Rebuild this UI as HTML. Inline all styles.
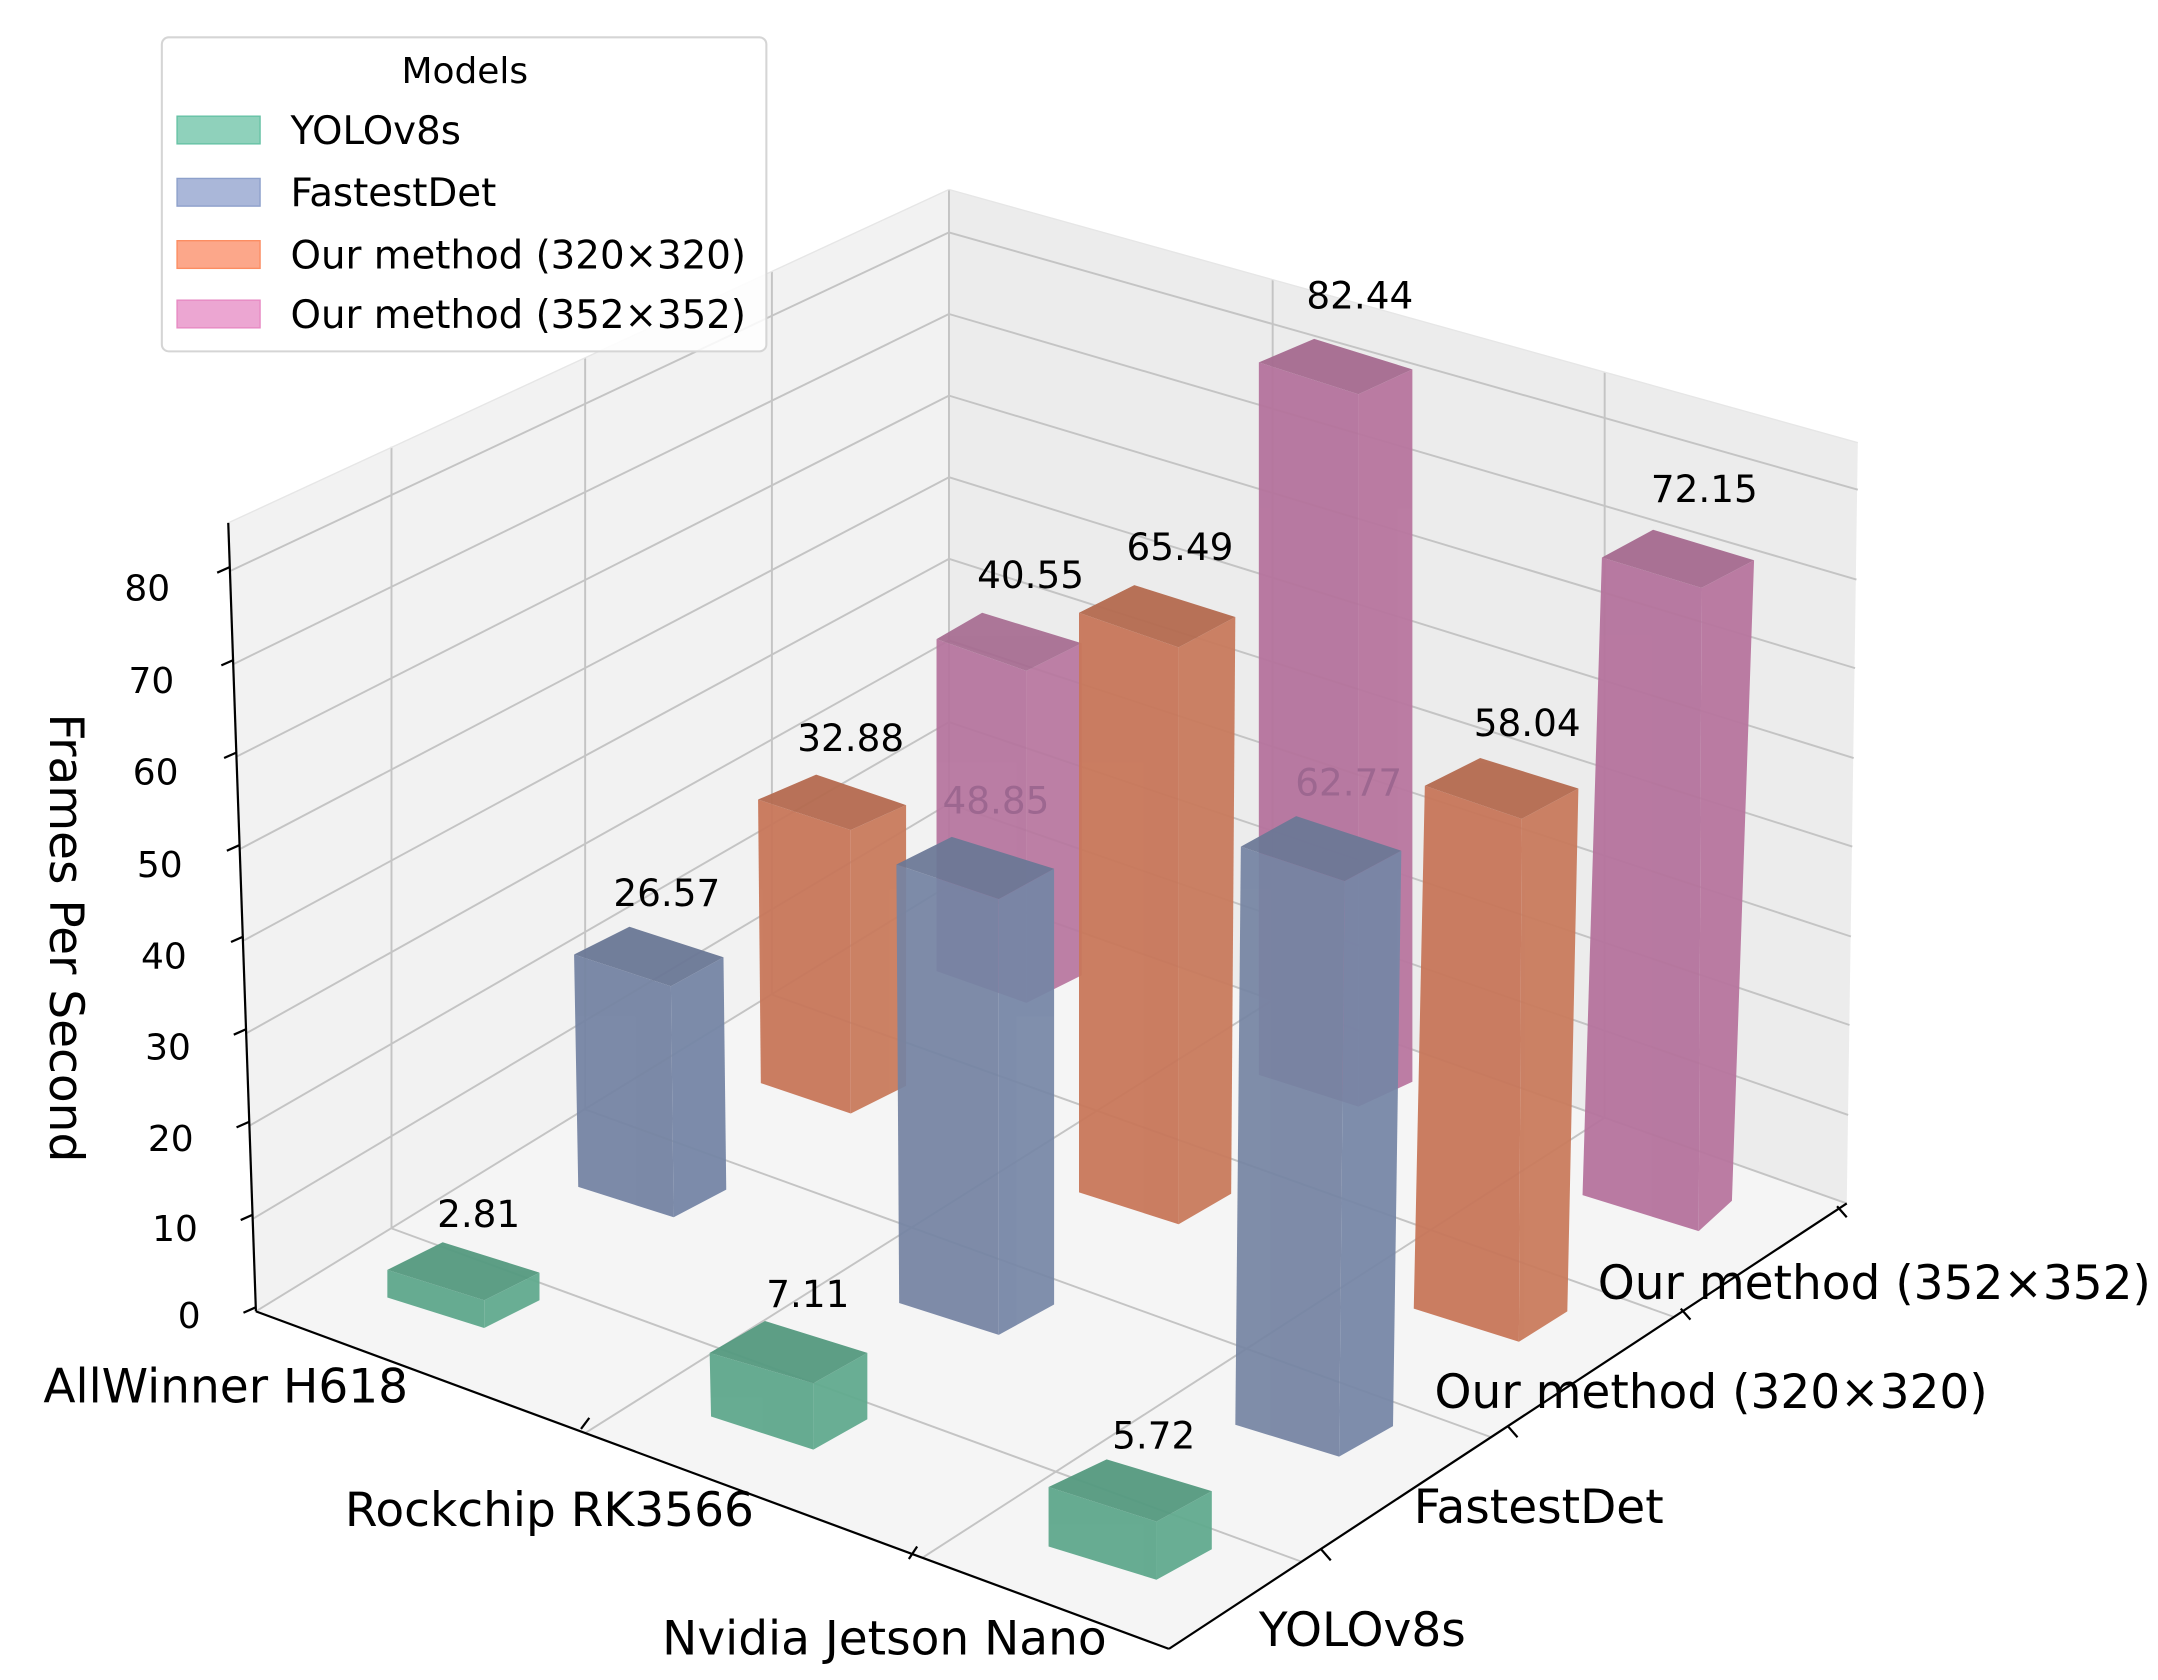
<!DOCTYPE html>
<html><head><meta charset="utf-8"><style>
html,body{margin:0;padding:0;background:#fff}
svg{display:block}
text{font-family:"DejaVu Sans","Liberation Sans",sans-serif;fill:#000}
</style></head><body>
<svg width="2158" height="1680" viewBox="0 0 1560 1214.5" preserveAspectRatio="none" xmlns="http://www.w3.org/2000/svg">
<rect width="1560" height="1215" fill="#fff"/>
<polygon points="185,948 686,640 686,137 165,378" fill="#f2f2f2"/>
<polygon points="686,640 1335,870 1343,320 686,137" fill="#ececec"/>
<polygon points="185,948 845,1192 1335,870 686,640" fill="#f5f5f5"/>
<g stroke="#c4c4c4" stroke-width="1.4" fill="none">
<line x1="183" y1="881" x2="686" y2="581"/><line x1="180" y1="814" x2="686" y2="522"/>
<line x1="178" y1="747" x2="686" y2="463"/><line x1="176" y1="680" x2="686" y2="404"/>
<line x1="173" y1="614" x2="686" y2="345"/><line x1="171" y1="547" x2="686" y2="286"/>
<line x1="169" y1="480" x2="686" y2="227"/><line x1="166" y1="413" x2="686" y2="168"/>
<line x1="185" y1="948" x2="686" y2="640"/>
<line x1="686" y1="581" x2="1336" y2="806"/><line x1="686" y1="522" x2="1337" y2="741"/>
<line x1="686" y1="463" x2="1338" y2="677"/><line x1="686" y1="404" x2="1339" y2="612"/>
<line x1="686" y1="345" x2="1340" y2="548"/><line x1="686" y1="286" x2="1341" y2="483"/>
<line x1="686" y1="227" x2="1342" y2="419"/><line x1="686" y1="168" x2="1343" y2="354"/>
<line x1="686" y1="640" x2="1335" y2="870"/>
<line x1="283" y1="888" x2="283" y2="323"/><line x1="423" y1="802" x2="423" y2="259"/>
<line x1="558" y1="719" x2="558" y2="196"/><line x1="686" y1="640" x2="686" y2="137"/>
<line x1="920" y1="723" x2="920" y2="202"/><line x1="1160" y1="808" x2="1160" y2="269"/>
<line x1="283" y1="888" x2="941" y2="1129"/><line x1="423" y1="802" x2="1078" y2="1039"/>
<line x1="558" y1="719" x2="1210" y2="952"/>
<line x1="920" y1="723" x2="423" y2="1036"/><line x1="1160" y1="808" x2="667" y2="1126"/>
</g>
<g stroke="#e6e6e6" stroke-width="1" fill="none">
<line x1="165" y1="378" x2="686" y2="137"/><line x1="686" y1="137" x2="1343" y2="320"/>
</g>
<g stroke="#000" stroke-width="1.6" fill="none">
<line x1="185" y1="948" x2="845" y2="1192"/><line x1="845" y1="1192" x2="1335" y2="870"/>
<line x1="185" y1="948" x2="165" y2="378"/>
<line x1="420" y1="1033" x2="426" y2="1025"/><line x1="657" y1="1127" x2="663" y2="1118"/>
<line x1="955" y1="1120" x2="962" y2="1128"/><line x1="1090" y1="1031" x2="1097" y2="1039"/>
<line x1="1215" y1="946" x2="1222" y2="954"/><line x1="1328" y1="872" x2="1335" y2="880"/>
<line x1="185" y1="945" x2="176" y2="949"/><line x1="183" y1="878" x2="174" y2="882"/>
<line x1="180" y1="811" x2="171" y2="815"/><line x1="178" y1="744" x2="169" y2="748"/>
<line x1="176" y1="677" x2="167" y2="681"/><line x1="173" y1="611" x2="164" y2="615"/>
<line x1="171" y1="544" x2="162" y2="548"/><line x1="169" y1="477" x2="160" y2="481"/>
<line x1="166" y1="410" x2="157" y2="414"/>
</g>
<g font-size="26" text-anchor="end">
<text x="123" y="434">80</text><text x="126" y="501">70</text><text x="129" y="567">60</text>
<text x="132" y="634">50</text><text x="135" y="700">40</text><text x="138" y="766">30</text>
<text x="140" y="832">20</text><text x="143" y="897">10</text><text x="145" y="960">0</text>
</g>
<text transform="translate(36,678) rotate(90)" font-size="34" text-anchor="middle">Frames Per Second</text>
<g font-size="34">
<text x="295" y="1014" text-anchor="end">AllWinner H618</text>
<text x="545" y="1103" text-anchor="end">Rockchip RK3566</text>
<text x="800" y="1196" text-anchor="end">Nvidia Jetson Nano</text>
<text x="910" y="1190">YOLOv8s</text>
<text x="1022" y="1101">FastestDet</text>
<text x="1037" y="1018">Our method (320×320)</text>
<text x="1155" y="939">Our method (352×352)</text>
</g>
<g stroke="none">
<g opacity="0.92"><polygon points="677,462 742,485 742,725 677,702" fill="#b5739d"/><polygon points="742,485 782,465 782,705 742,725" fill="#b8769f"/><polygon points="677,462 710,443 782,465 742,485" fill="#a66b90"/></g>
<g opacity="0.95"><polygon points="548,578 615,600 615,805 550,783" fill="#c8775a"/><polygon points="615,600 655,582 655,785 615,805" fill="#c97b5d"/><polygon points="548,578 590,560 655,582 615,600" fill="#b56b50"/></g>
<g opacity="0.95"><polygon points="910,262 982,285 982,800 910,777" fill="#b5739d"/><polygon points="982,285 1021,267 1021,782 982,800" fill="#b8769f"/><polygon points="910,262 950,245 1021,267 982,285" fill="#a66b90"/></g>
<g opacity="0.95"><polygon points="415,690 485,713 487,880 418,858" fill="#7584a3"/><polygon points="485,713 523,692 525,860 487,880" fill="#7686a6"/><polygon points="415,690 455,670 523,692 485,713" fill="#6b7896"/></g>
<g opacity="0.95"><polygon points="780,443 852,468 852,885 780,862" fill="#c8775a"/><polygon points="852,468 893,446 890,863 852,885" fill="#c97b5d"/><polygon points="780,443 820,423 893,446 852,468" fill="#b56b50"/></g>
<g opacity="0.95"><polygon points="1158,403 1230,425 1228,890 1144,864" fill="#b5739d"/><polygon points="1230,425 1268,405 1252,868 1228,890" fill="#b8769f"/><polygon points="1158,403 1195,383 1268,405 1230,425" fill="#a66b90"/></g>
<g opacity="0.95"><polygon points="280,918 350,940 350,960 280,938" fill="#5fa88c"/><polygon points="350,940 390,920 390,940 350,960" fill="#62ab8f"/><polygon points="280,918 320,898 390,920 350,940" fill="#559a80"/></g>
</g>
<g font-size="27" text-anchor="middle">
<text x="720" y="588" style="fill:#9d6790">48.85</text><text x="975" y="575" style="fill:#9d6790">62.77</text>
</g>
<g stroke="none">
<g opacity="0.93"><polygon points="648,625 722,650 722,965 650,942" fill="#7584a3"/><polygon points="722,650 762,628 762,943 722,965" fill="#7686a6"/><polygon points="648,625 688,605 762,628 722,650" fill="#6b7896"/></g>
<g opacity="0.95"><polygon points="1030,568 1100,592 1098,970 1022,946" fill="#c8775a"/><polygon points="1100,592 1141,570 1133,948 1098,970" fill="#c97b5d"/><polygon points="1030,568 1070,548 1141,570 1100,592" fill="#b56b50"/></g>
<g opacity="0.93"><polygon points="897,612 972,637 968,1053 893,1030" fill="#7584a3"/><polygon points="972,637 1013,615 1007,1031 968,1053" fill="#7686a6"/><polygon points="897,612 937,590 1013,615 972,637" fill="#6b7896"/></g>
<g opacity="0.95"><polygon points="513,978 588,1000 588,1048 514,1024" fill="#5fa88c"/><polygon points="588,1000 627,978 627,1026 588,1048" fill="#62ab8f"/><polygon points="513,978 553,955 627,978 588,1000" fill="#559a80"/></g>
<g opacity="0.95"><polygon points="758,1075 836,1100 836,1142 758,1118" fill="#5fa88c"/><polygon points="836,1100 876,1078 876,1120 836,1142" fill="#62ab8f"/><polygon points="758,1075 800,1055 876,1078 836,1100" fill="#559a80"/></g>
</g>
<g font-size="27" text-anchor="middle">
<text x="983" y="223">82.44</text><text x="1232" y="363">72.15</text>
<text x="853" y="405">65.49</text><text x="745" y="425">40.55</text>
<text x="1104" y="532">58.04</text><text x="615" y="543">32.88</text>
<text x="482" y="655">26.57</text><text x="346" y="887">2.81</text>
<text x="584" y="945">7.11</text><text x="834" y="1047">5.72</text>
</g>
<rect x="117" y="27" width="437" height="227" rx="5" fill="#fff" fill-opacity="0.85" stroke="#d5d5d5" stroke-width="1.5"/>
<text x="336" y="60" font-size="26" text-anchor="middle">Models</text>
<rect x="128" y="84" width="60" height="20" fill="#8fd1bb" stroke="#66c2a5"/>
<rect x="128" y="129" width="60" height="20" fill="#aab7d9" stroke="#8da0cb"/>
<rect x="128" y="174" width="60" height="20" fill="#fca78a" stroke="#fc8d62"/>
<rect x="128" y="217" width="60" height="20" fill="#eca6d2" stroke="#e78ac3"/>
<g font-size="28">
<text x="210" y="104">YOLOv8s</text><text x="210" y="149">FastestDet</text>
<text x="210" y="194">Our method (320×320)</text><text x="210" y="237">Our method (352×352)</text>
</g>
</svg>
</body></html>
